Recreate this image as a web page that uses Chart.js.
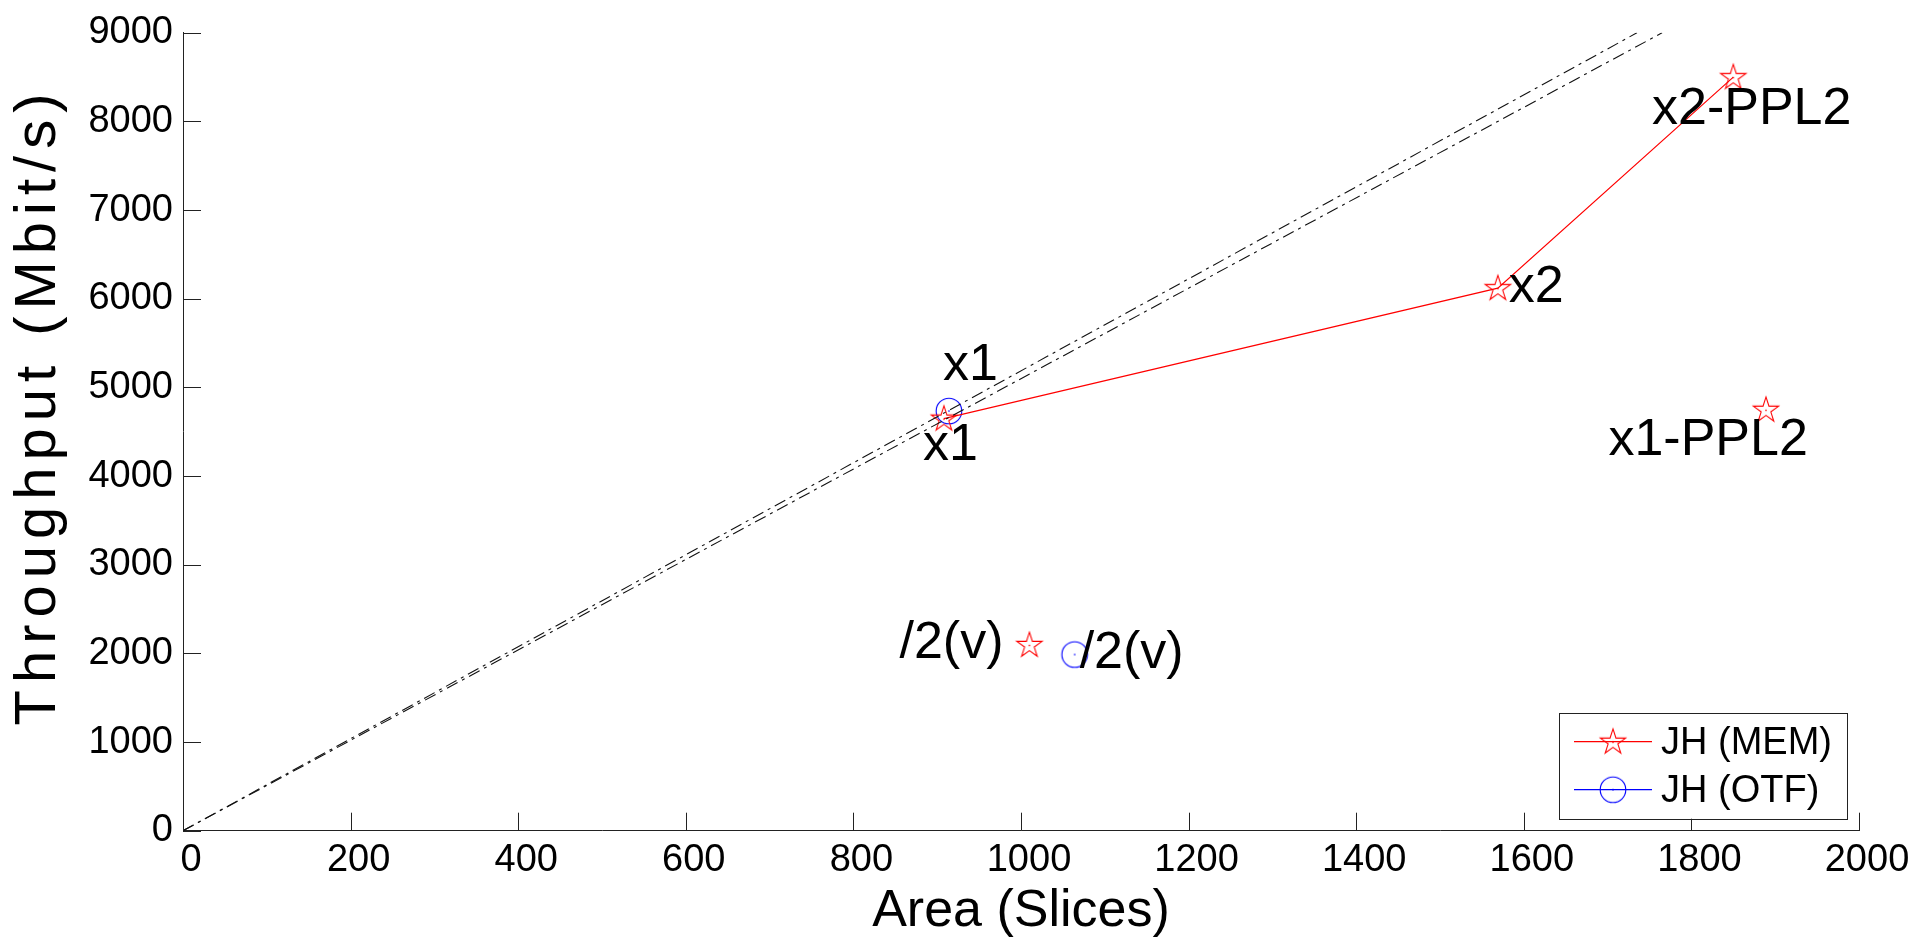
<!DOCTYPE html>
<html><head><meta charset="utf-8">
<script src="https://cdn.jsdelivr.net/npm/chart.js@4.4.1/dist/chart.umd.min.js"></script>
<style>html,body{margin:0;padding:0;background:#fff;overflow:hidden}canvas{display:block}</style>
</head><body>
<canvas id="c" width="1929" height="938"></canvas>
<script>
// ---- data ----
const seriesNames = ['JH (MEM)', 'JH (OTF)'];
const memLineX = [908, 1569, 1850];
const memLineY = [4648, 6120, 8500];
const memPtsX = [1010, 1889];
const memPtsY = [2095, 4748];
const otfX = [914, 1064];
const otfY = [4734, 1987];
const refAX = [0, 1735], refAY = [0, 9000];
const refBX = [0, 1765], refBY = [0, 9000];
const labelTexts = ['x1', 'x1', 'x2', 'x2-PPL2', 'x1-PPL2', '/2(v)', '/2(v)'];
const labelX = [907, 883, 1582, 1753, 1701, 855, 1070];
const labelY = [5248, 4346, 6129, 8136, 4394, 2105, 2001];
const xTickValues = [0, 200, 400, 600, 800, 1000, 1200, 1400, 1600, 1800, 2000];
const yTickValues = [0, 1000, 2000, 3000, 4000, 5000, 6000, 7000, 8000, 9000];
const xTitle = 'Area (Slices)';
const yTitle = 'Throughput (Mbit/s)';

const pts = (xs, ys) => xs.map((x, i) => ({x, y: ys[i]}));
const FONT = "'Liberation Sans', Arial, sans-serif";
const AXIS = '#222';

function makeStar(color) {
  const c = document.createElement('canvas'); c.width = 32; c.height = 32;
  const g = c.getContext('2d'); g.strokeStyle = color; g.lineWidth = 1.1;
  const R = 13.3, r = R * 0.382, cx = 16, cy = 16.5;
  g.beginPath();
  for (let i = 0; i < 10; i++) {
    const a = -Math.PI / 2 + i * Math.PI / 5, rad = i % 2 === 0 ? R : r;
    g.lineTo(cx + rad * Math.cos(a), cy + rad * Math.sin(a));
  }
  g.closePath(); g.stroke();
  g.fillStyle = color; g.fillRect(cx - 0.7, cy - 0.7, 1.4, 1.4);
  return c;
}
function makeCircle(color) {
  const c = document.createElement('canvas'); c.width = 32; c.height = 32;
  const g = c.getContext('2d'); g.strokeStyle = color; g.lineWidth = 1.1;
  g.beginPath(); g.arc(16, 16, 12.8, 0, Math.PI * 2); g.stroke();
  g.fillStyle = color; g.fillRect(15.3, 15.3, 1.4, 1.4);
  return c;
}
const starImg = makeStar('#ff0000');
const circImg = makeCircle('#0000ff');

const insideTicks = {
  id: 'insideTicks',
  afterDraw(chart) {
    const ctx = chart.ctx, xs = chart.scales.x, ys = chart.scales.y, a = chart.chartArea;
    ctx.save(); ctx.strokeStyle = AXIS; ctx.lineWidth = 1;
    ctx.beginPath();
    xs.ticks.forEach(t => { const p = Math.round(xs.getPixelForValue(t.value)) + 0.5; ctx.moveTo(p, a.bottom); ctx.lineTo(p, a.bottom - 18); });
    ys.ticks.forEach(t => { const p = Math.round(ys.getPixelForValue(t.value)) + 0.5; ctx.moveTo(a.left, p); ctx.lineTo(a.left + 18, p); });
    ctx.stroke(); ctx.restore();
  }
};
const yTitlePlugin = {
  id: 'yTitlePlugin',
  afterDraw(chart) {
    const ctx = chart.ctx;
    ctx.save();
    ctx.translate(39, 409); ctx.rotate(-Math.PI / 2);
    ctx.fillStyle = '#000'; ctx.font = '58px ' + FONT;
    ctx.textAlign = 'center'; ctx.textBaseline = 'middle';
    if ('letterSpacing' in ctx) ctx.letterSpacing = '7px';
    ctx.fillText(yTitle, 3, 0);
    ctx.restore();
  }
};
const textLabels = {
  id: 'textLabels',
  afterDatasetsDraw(chart) {
    const ctx = chart.ctx, xs = chart.scales.x, ys = chart.scales.y;
    ctx.save(); ctx.fillStyle = '#000'; ctx.font = '52px ' + FONT;
    ctx.textAlign = 'left'; ctx.textBaseline = 'middle';
    labelTexts.forEach((t, i) => ctx.fillText(t, xs.getPixelForValue(labelX[i]), ys.getPixelForValue(labelY[i])));
    ctx.restore();
  }
};
const boxLegend = {
  id: 'boxLegend',
  afterDraw(chart) {
    const ctx = chart.ctx, a = chart.chartArea;
    const w = 288, h = 106, right = a.right - 12, bottom = a.bottom - 12;
    const left = right - w, top = bottom - h;
    ctx.save();
    ctx.fillStyle = '#fff'; ctx.fillRect(left, top, w, h);
    ctx.strokeStyle = AXIS; ctx.lineWidth = 1; ctx.strokeRect(Math.round(left) + 0.5, Math.round(top) + 0.5, w, h);
    const items = [{c: '#ff0000', img: starImg, y: top + 29}, {c: '#0000ff', img: circImg, y: top + 77}];
    items.forEach((it, i) => {
      ctx.strokeStyle = it.c; ctx.lineWidth = 1.2;
      ctx.beginPath(); ctx.moveTo(left + 15, it.y); ctx.lineTo(left + 93, it.y); ctx.stroke();
      ctx.drawImage(it.img, left + 54 - 16, it.y - 16);
      ctx.fillStyle = '#000'; ctx.font = '38px ' + FONT; ctx.textAlign = 'left'; ctx.textBaseline = 'middle';
      ctx.fillText(seriesNames[i], left + 102, it.y + 2);
    });
    ctx.restore();
  }
};

new Chart(document.getElementById('c'), {
  type: 'scatter',
  data: {
    datasets: [
      {data: pts(refAX, refAY), showLine: true, borderColor: '#111', borderWidth: 1.1, borderDash: [12, 5, 3, 5], pointRadius: 0},
      {data: pts(refBX, refBY), showLine: true, borderColor: '#111', borderWidth: 1.1, borderDash: [12, 5, 3, 5], pointRadius: 0},
      {label: seriesNames[0], data: pts(memLineX, memLineY), showLine: true, borderColor: '#ff0000', borderWidth: 1.2, pointStyle: starImg, pointRadius: 13},
      {data: pts(memPtsX, memPtsY), showLine: false, pointStyle: starImg, pointRadius: 13},
      {label: seriesNames[1], data: pts(otfX, otfY), showLine: false, pointStyle: circImg, pointRadius: 13}
    ]
  },
  options: {
    responsive: false, animation: false, devicePixelRatio: 1,
    layout: {padding: {top: 26, right: 70, left: 0, bottom: 0}},
    plugins: {legend: {display: false}, tooltip: {enabled: false}},
    scales: {
      x: {
        type: 'linear', min: 0, max: 2000,
        afterBuildTicks: s => { s.ticks = xTickValues.map(v => ({value: v})); },
        afterFit: s => { s.height = 107.3; },
        grid: {drawOnChartArea: false, drawTicks: false},
        border: {display: true, color: AXIS, width: 1},
        ticks: {color: '#000', padding: 7, labelOffset: 8, maxRotation: 0, autoSkip: false, callback: v => String(v), font: {family: FONT, size: 38, lineHeight: 1.2}},
        title: {display: true, text: xTitle, color: '#000', font: {family: FONT, size: 52, lineHeight: 1.0}, padding: {top: 0, bottom: 0}}
      },
      y: {
        type: 'linear', min: 0, max: 9000,
        afterBuildTicks: s => { s.ticks = yTickValues.map(v => ({value: v})); },
        afterFit: s => { s.width = 183; },
        grid: {drawOnChartArea: false, drawTicks: false},
        border: {display: true, color: AXIS, width: 1},
        ticks: {color: '#000', padding: 10, autoSkip: false, callback: v => String(v), font: {family: FONT, size: 38, lineHeight: 1.2}},
        title: {display: false}
      }
    }
  },
  plugins: [insideTicks, yTitlePlugin, textLabels, boxLegend]
});
</script>
</body></html>
